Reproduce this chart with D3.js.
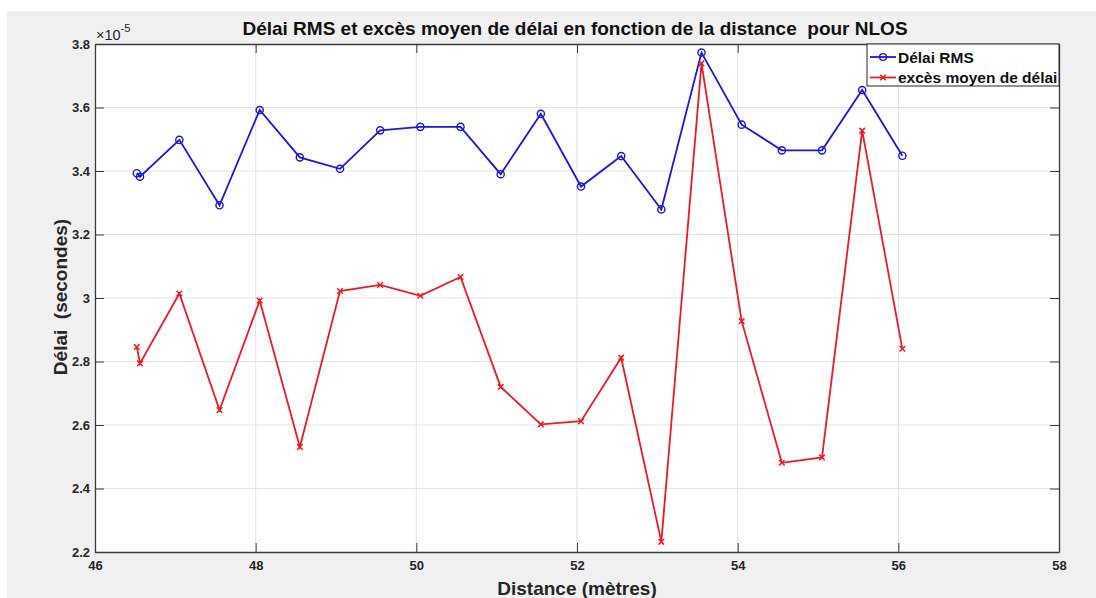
<!DOCTYPE html>
<html>
<head>
<meta charset="utf-8">
<script src="https://cdn.jsdelivr.net/npm/d3@7"></script>
<style>
  body { margin: 0; background: #ffffff; }
  text { font-family: "Liberation Sans", Arial, sans-serif; }
</style>
</head>
<body>
<div id="GraphDiv"></div>
<script>
// Data (delays in units of 1e-5 s).
const distances = [46.52, 46.56, 47.05, 47.55, 48.05, 48.55, 49.05, 49.55, 50.05, 50.55,
                   51.05, 51.55, 52.05, 52.55, 53.05, 53.55, 54.05, 54.55, 55.05, 55.55, 56.05]
const rmsDelay = [3.393, 3.382, 3.498, 3.292, 3.592, 3.443, 3.407, 3.528, 3.539, 3.539,
                  3.390, 3.580, 3.351, 3.447, 3.279, 3.773, 3.546, 3.465, 3.465, 3.655, 3.448]
const meanExcessDelay = [2.846, 2.794, 3.014, 2.647, 2.992, 2.531, 3.022, 3.041, 3.007, 3.066,
                         2.720, 2.602, 2.612, 2.812, 2.232, 3.739, 2.927, 2.481, 2.498, 3.527, 2.840]
const xTicks = [46, 48, 50, 52, 54, 56, 58]
const yTicks = [2.2, 2.4, 2.6, 2.8, 3, 3.2, 3.4, 3.6, 3.8]
const seriesNames = ["Délai RMS", "excès moyen de délai"]

// Layout.
let width = 1096
let height = 598
let margins = {"left": 95, "right": 37, "top": 44, "bottom": 46};
let plotW = width - margins.left - margins.right
let plotH = height - margins.top - margins.bottom
let tickLen = 9
let axisColour = "#3a3a3a"
let blue = "#1818e0"
let red = "#ec1c24"

let root = d3.select("#GraphDiv")
    .append("svg")
    .attr("width", width)
    .attr("height", height);

// Figure background.
root.append("rect")
    .attr("x", 7).attr("y", 11)
    .attr("width", width - 7).attr("height", height - 11)
    .attr("fill", "#f0f0f0");

let svg = root.append("g")
    .attr("transform", "translate(" + margins.left + "," + margins.top + ")");

// Scales.
let xRange = d3.scaleLinear().domain([46, 58]).range([0, plotW]);
let yRange = d3.scaleLinear().domain([2.2, 3.8]).range([plotH, 0]);

// Axes area.
svg.append("rect")
    .attr("width", plotW).attr("height", plotH)
    .attr("fill", "#ffffff");

// Grid.
svg.append("g").selectAll("line")
    .data(xTicks.slice(1, -1))
    .enter().append("line")
    .attr("x1", d => xRange(d)).attr("x2", d => xRange(d))
    .attr("y1", 0).attr("y2", plotH)
    .attr("stroke", "#e3e3e3").attr("stroke-width", 1);
svg.append("g").selectAll("line")
    .data(yTicks.slice(1, -1))
    .enter().append("line")
    .attr("y1", d => yRange(d)).attr("y2", d => yRange(d))
    .attr("x1", 0).attr("x2", plotW)
    .attr("stroke", "#e3e3e3").attr("stroke-width", 1);

// Axes with inward ticks, on all four sides.
let xAxis = d3.axisBottom(xRange).tickValues(xTicks).tickSizeInner(-tickLen).tickSizeOuter(0).tickPadding(9);
let yAxis = d3.axisLeft(yRange).tickValues(yTicks).tickSizeInner(-tickLen).tickSizeOuter(0).tickPadding(5)
    .tickFormat(d3.format("~g"));
let xTop = d3.axisTop(xRange).tickValues(xTicks).tickSizeInner(-tickLen).tickSizeOuter(0).tickFormat("");
let yRight = d3.axisRight(yRange).tickValues(yTicks).tickSizeInner(-tickLen).tickSizeOuter(0).tickFormat("");

svg.append("g").attr("class", "x axis").attr("transform", "translate(0," + plotH + ")").call(xAxis);
svg.append("g").attr("class", "y axis").call(yAxis);
svg.append("g").attr("class", "axis").call(xTop);
svg.append("g").attr("class", "axis").attr("transform", "translate(" + plotW + ",0)").call(yRight);

svg.selectAll(".axis path, .x.axis path, .y.axis path")
    .attr("stroke", axisColour).attr("stroke-width", 1.3);
svg.selectAll(".axis line").attr("stroke", axisColour);
svg.selectAll(".tick text")
    .attr("fill", "#262626")
    .style("font-size", "13px")
    .style("font-weight", "bold");

// Exponent label.
let expo = svg.append("text")
    .attr("x", 1).attr("y", -4)
    .attr("fill", "#262626")
    .style("font-size", "14.5px");
expo.append("tspan").text("×10");
expo.append("tspan").attr("dy", -8).style("font-size", "11px").text("-5");

// Series.
let line = d3.line()
    .x(d => xRange(d[0]))
    .y(d => yRange(d[1]));

let rmsPoints = distances.map((d, i) => [d, rmsDelay[i]])
let excessPoints = distances.map((d, i) => [d, meanExcessDelay[i]])

svg.append("path")
    .datum(rmsPoints)
    .attr("d", line)
    .attr("fill", "none")
    .attr("stroke", blue)
    .attr("stroke-width", 1.8);

svg.append("g").selectAll("circle")
    .data(rmsPoints)
    .enter().append("circle")
    .attr("cx", d => xRange(d[0]))
    .attr("cy", d => yRange(d[1]))
    .attr("r", 3.6)
    .attr("fill", "none")
    .attr("stroke", blue)
    .attr("stroke-width", 1.4);

svg.append("path")
    .datum(excessPoints)
    .attr("d", line)
    .attr("fill", "none")
    .attr("stroke", red)
    .attr("stroke-width", 1.8);

let cross = d3.symbol().type(d3.symbolX).size(22)
svg.append("g").selectAll("path")
    .data(excessPoints)
    .enter().append("path")
    .attr("transform", d => "translate(" + xRange(d[0]) + "," + yRange(d[1]) + ")")
    .attr("d", cross)
    .attr("fill", "none")
    .attr("stroke", red)
    .attr("stroke-width", 1.5);

// Legend.
let legend = svg.append("g").attr("transform", "translate(" + (plotW - 192) + ",0)");
legend.append("rect")
    .attr("width", 192).attr("height", 42)
    .attr("fill", "#ffffff")
    .attr("stroke", "#262626").attr("stroke-width", 1);
let legendColours = [blue, red]
seriesNames.forEach(function(name, i) {
    let y = 13 + i * 20.5
    legend.append("line")
        .attr("x1", 3).attr("x2", 29).attr("y1", y).attr("y2", y)
        .attr("stroke", legendColours[i]).attr("stroke-width", 1.8);
    if (i === 0) {
        legend.append("circle").attr("cx", 16).attr("cy", y).attr("r", 3.4)
            .attr("fill", "none").attr("stroke", blue).attr("stroke-width", 1.4);
    } else {
        legend.append("path").attr("transform", "translate(16," + y + ")").attr("d", cross)
            .attr("fill", "none").attr("stroke", red).attr("stroke-width", 1.5);
    }
    legend.append("text")
        .attr("x", 31).attr("y", y + 5.5)
        .attr("fill", "#111111")
        .style("font-size", "15.5px")
        .style("font-weight", "bold")
        .text(name);
});

// Title and axis labels.
svg.append("text")
    .attr("x", plotW / 2 - 2).attr("y", -9)
    .attr("text-anchor", "middle")
    .attr("fill", "#111111")
    .style("font-size", "19px")
    .style("font-weight", "bold")
    .style("white-space", "pre")
    .text("Délai RMS et excès moyen de délai en fonction de la distance  pour NLOS");

svg.append("text")
    .attr("x", plotW / 2).attr("y", plotH + 43)
    .attr("text-anchor", "middle")
    .attr("fill", "#262626")
    .style("font-size", "19px")
    .style("font-weight", "bold")
    .text("Distance (mètres)");

svg.append("text")
    .attr("transform", "rotate(-90)")
    .attr("x", -(297 - margins.top)).attr("y", -28)
    .attr("text-anchor", "middle")
    .attr("fill", "#262626")
    .style("font-size", "19px")
    .style("font-weight", "bold")
    .style("white-space", "pre")
    .text("Délai  (secondes)");
</script>
</body>
</html>
